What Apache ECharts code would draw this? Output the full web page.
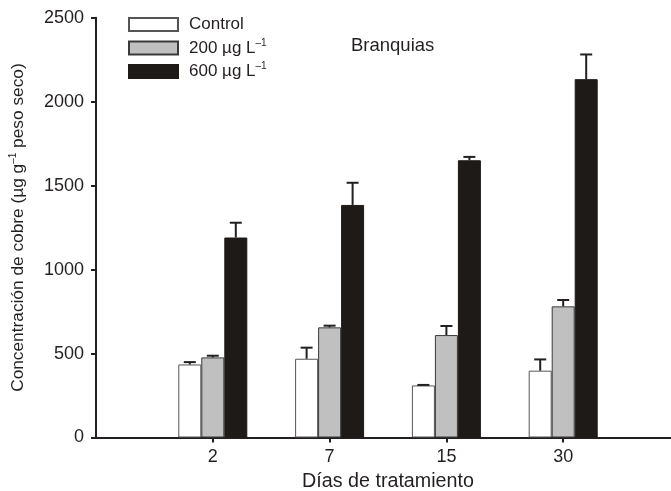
<!DOCTYPE html>
<html>
<head>
<meta charset="utf-8">
<script src="https://cdn.jsdelivr.net/npm/echarts@6/dist/echarts.min.js"></script>
<style>html,body{margin:0;padding:0;background:#fff;overflow:hidden;width:671px;height:491px}#c{width:681px;height:491px}</style>
</head>
<body>
<div id="c"></div>
<script>
const categories = ['', '2', '7', '15', '30', ''];
const controlVals = [null, 435, 469, 310, 398, null];
const controlErr  = [null, 449, 535, 313, 465, null];
const mid200Vals  = [null, 477, 656, 610, 781, null];
const mid200Err   = [null, 487, 666, 664, 819, null];
const high600Vals = [null, 1191, 1385, 1651, 2134, null];
const high600Err  = [null, 1279, 1517, 1671, 2281, null];
const seriesNames = ['Control', '200 µg L-1', '600 µg L-1'];
const yTicks = { min: 0, max: 2500, interval: 500 };

const FONT = 'Liberation Sans, Arial, sans-serif';
const INK = '#231f20';
const BW = 23;

function errSeries(errArr, valArr, offset) {
  const data = [];
  for (let i = 0; i < errArr.length; i++) {
    if (errArr[i] != null) data.push([i, valArr[i], errArr[i]]);
  }
  return {
    type: 'custom',
    z: 5,
    silent: true,
    data: data,
    renderItem: function (params, api) {
      const i = api.value(0);
      const lo = api.coord([i, api.value(1)]);
      const hi = api.coord([i, api.value(2)]);
      const x = lo[0] + offset;
      return {
        type: 'group',
        children: [
          { type: 'line', shape: { x1: x, y1: lo[1], x2: x, y2: hi[1] }, style: { stroke: INK, lineWidth: 2 } },
          { type: 'line', shape: { x1: x - 6, y1: hi[1], x2: x + 6, y2: hi[1] }, style: { stroke: INK, lineWidth: 2 } }
        ]
      };
    }
  };
}

const chart = echarts.init(document.getElementById('c'));
chart.setOption({
  animation: false,
  backgroundColor: '#fff',
  textStyle: { fontFamily: FONT, color: INK },
  title: {
    text: 'Branquias', left: 346, top: 31,
    textStyle: { fontFamily: FONT, fontSize: 18.5, fontWeight: 'normal', color: INK }
  },
  legend: {
    orient: 'vertical', left: 128, top: 16, padding: 0,
    itemWidth: 49, itemHeight: 13, itemGap: 5,
    icon: 'rect',
    data: seriesNames,
    formatter: function (name) {
      if (name === 'Control') return '{a|Control}';
      const parts = name.split(' L-1');
      return '{a|' + parts[0] + ' L}{s|–1}';
    },
    textStyle: {
      padding: [0, 0, 0, 6],
      rich: {
        a: { fontFamily: FONT, fontSize: 17, color: INK, lineHeight: 20 },
        s: { fontFamily: FONT, fontSize: 10, color: INK, verticalAlign: 'top', lineHeight: 12 }
      }
    }
  },
  grid: { left: 96, top: 17.7, height: 419.8, width: 584, containLabel: false, outerBoundsMode: 'none' },
  xAxis: {
    type: 'category',
    data: categories,
    boundaryGap: false,
    axisLine: { lineStyle: { color: INK, width: 2 } },
    axisTick: {
      length: 5, lineStyle: { color: INK, width: 2 },
      interval: function (idx, val) { return val !== ''; }
    },
    axisLabel: { fontFamily: FONT, fontSize: 18, color: INK, margin: 11, interval: 0 },
    name: 'Días de tratamiento',
    nameLocation: 'middle', nameGap: 32,
    nameTextStyle: { fontFamily: FONT, fontSize: 19.7, color: INK }
  },
  yAxis: {
    type: 'value',
    min: yTicks.min, max: yTicks.max, interval: yTicks.interval,
    splitLine: { show: false },
    axisLine: { show: true, lineStyle: { color: INK, width: 2 } },
    axisTick: { show: true, length: 5, lineStyle: { color: INK, width: 2 } },
    axisLabel: { fontFamily: FONT, fontSize: 18, color: INK, margin: 12, formatter: function (v) { return String(v); } },
    name: '{a|Concentración de cobre (µg g}{s|–1}{a| peso seco)}',
    nameLocation: 'middle', nameGap: 68,
    nameTextStyle: {
      rich: {
        a: { fontFamily: FONT, fontSize: 17.3, color: INK, lineHeight: 20 },
        s: { fontFamily: FONT, fontSize: 10, color: INK, verticalAlign: 'top', lineHeight: 12 }
      }
    }
  },
  series: [
    { name: seriesNames[0], type: 'bar', data: controlVals, barWidth: BW, barGap: '0%',
      itemStyle: { color: '#ffffff', borderColor: '#555555', borderWidth: 1 } },
    { name: seriesNames[1], type: 'bar', data: mid200Vals, barWidth: BW, barGap: '0%',
      itemStyle: { color: '#c0c0c0', borderColor: '#3a3a3a', borderWidth: 1 } },
    { name: seriesNames[2], type: 'bar', data: high600Vals, barWidth: BW, barGap: '0%',
      itemStyle: { color: '#1e1a17', borderColor: '#1e1a17', borderWidth: 1 } },
    errSeries(controlErr, controlVals, -BW),
    errSeries(mid200Err, mid200Vals, 0),
    errSeries(high600Err, high600Vals, BW)
  ]
});
</script>
</body>
</html>
